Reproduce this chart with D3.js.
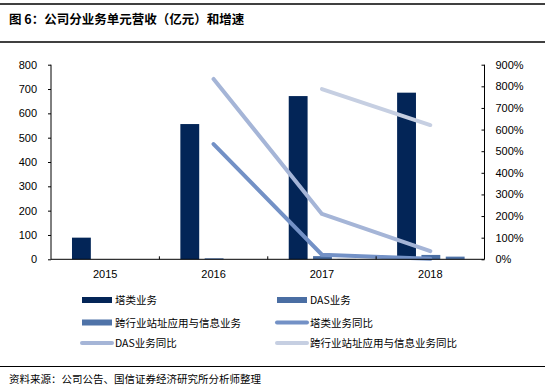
<!DOCTYPE html>
<html><head><meta charset="utf-8">
<script src="https://cdn.jsdelivr.net/npm/d3@7"></script>
<style>
body{margin:0;background:#fff;}
svg text{font-family:Arial,"Liberation Sans","Noto Sans CJK SC",sans-serif;}
.cjk{font-family:"Noto Sans CJK SC",sans-serif;}
</style></head>
<body><svg id="c" width="545" height="387"></svg>
<script>
const years = ["2015","2016","2017","2018"];
const barSeries = ["塔类业务","DAS业务","跨行业站址应用与信息业务"];
const towerRev = [89, 556, 671, 685];
const dasRev = [0.45, 4.2, 13, 18];
const crossRev = [null, 0.17, 1.5, 11];
const lineSeries = ["塔类业务同比","DAS业务同比","跨行业站址应用与信息业务同比"];
const towerYoY = [null, 5.33, 0.21, 0.02];
const dasYoY = [null, 8.34, 2.10, 0.38];
const crossYoY = [null, null, 7.87, 6.21];
const leftTicks = [0,100,200,300,400,500,600,700,800];
const rightTicks = [0,1,2,3,4,5,6,7,8,9];

const barColors = ["#032557","#4a6ea3","#4f73a8"];
const lineColors = ["#7391c6","#a5b5d7","#c6cfe2"];

const svg = d3.select("#c");
const L = 51, R = 484.5, T = 64.7, B = 259.3;

// frame lines & title
svg.append("line").attr("x1",0).attr("x2",545).attr("y1",4).attr("y2",4).attr("stroke","#000").attr("stroke-width",1.5);
svg.append("line").attr("x1",0).attr("x2",545).attr("y1",42).attr("y2",42).attr("stroke","#000").attr("stroke-width",1.5);
svg.append("line").attr("x1",0).attr("x2",545).attr("y1",366.5).attr("y2",366.5).attr("stroke","#000").attr("stroke-width",1.2);
svg.append("text").attr("class","cjk").attr("x",9).attr("y",24).attr("font-size",12.5).attr("font-weight","bold").text("图 6：公司分业务单元营收（亿元）和增速");
svg.append("text").attr("class","cjk").attr("x",9).attr("y",383).attr("font-size",10.5).text("资料来源：公司公告、国信证券经济研究所分析师整理");

const x = d3.scaleBand().domain(years).range([L,R]);
const x1 = d3.scaleBand().domain(barSeries).range([-33.2,34.3]).paddingInner(0.225);
const y = d3.scaleLinear().domain([0,800]).range([B,T]);
const y2 = d3.scaleLinear().domain([0,9]).range([B,T]);

// bars
const barData = [towerRev, dasRev, crossRev];
barSeries.forEach((s,i)=>{
  svg.append("g").selectAll("rect").data(years.map((yr,j)=>({yr,v:barData[i][j]})).filter(d=>d.v!=null))
    .join("rect")
    .attr("x",d=>x(d.yr)+x.bandwidth()/2+x1(s))
    .attr("width",x1.bandwidth())
    .attr("y",d=>y(d.v))
    .attr("height",d=>B-y(d.v))
    .attr("fill",barColors[i]);
});

// lines
const lineData = [towerYoY, dasYoY, crossYoY];
lineSeries.forEach((s,i)=>{
  const pts = years.map((yr,j)=>({yr,v:lineData[i][j]})).filter(d=>d.v!=null);
  svg.append("path").datum(pts)
    .attr("d",d3.line().x(d=>x(d.yr)+x.bandwidth()/2).y(d=>y2(d.v)))
    .attr("fill","none").attr("stroke",lineColors[i]).attr("stroke-width",4)
    .attr("stroke-linecap","round").attr("stroke-linejoin","round");
});

// axes
const gl = svg.append("g").attr("transform",`translate(${L},0)`)
  .call(d3.axisLeft(y).tickValues(leftTicks).tickSize(3).tickPadding(11));
const gr = svg.append("g").attr("transform",`translate(${R},0)`)
  .call(d3.axisRight(y2).tickValues(rightTicks).tickSize(-3).tickPadding(11).tickFormat(d=>(d*100)+"%"));
const gx = svg.append("g").attr("transform",`translate(0,${B})`)
  .call(d3.axisBottom(x).tickSize(0).tickPadding(11));
[gl,gr,gx].forEach(g=>{
  g.select(".domain").attr("stroke","#000");
  g.selectAll(".tick line").attr("stroke","#000");
  g.selectAll("text").attr("font-size",11).attr("fill","#000").attr("font-family","Arial,'Liberation Sans',sans-serif");
});
gl.select(".domain").attr("d",`M0,${T}V${B}`);
gr.select(".domain").attr("d",`M0,${T}V${B}`);
gx.select(".domain").attr("d",`M${L},0H${R}`);
// category separator ticks pointing up
svg.append("g").selectAll("line").data(years.slice(1)).join("line")
  .attr("x1",d=>x(d)).attr("x2",d=>x(d)).attr("y1",B).attr("y2",B-3).attr("stroke","#000");

// legend
const leg = [
  {name:barSeries[0], type:"bar", c:barColors[0], x:82, y:300},
  {name:barSeries[1], type:"bar", c:barColors[1], x:277, y:300},
  {name:barSeries[2], type:"bar", c:barColors[2], x:82, y:322.5},
  {name:lineSeries[0], type:"line", c:lineColors[0], x:277, y:322.5},
  {name:lineSeries[1], type:"line", c:lineColors[1], x:82, y:343},
  {name:lineSeries[2], type:"line", c:lineColors[2], x:277, y:343}
];
leg.forEach(d=>{
  if(d.type==="bar"){
    svg.append("rect").attr("x",d.x).attr("y",d.y-3).attr("width",30).attr("height",6).attr("fill",d.c);
  } else {
    svg.append("line").attr("x1",d.x).attr("x2",d.x+30).attr("y1",d.y).attr("y2",d.y)
      .attr("stroke",d.c).attr("stroke-width",4).attr("stroke-linecap","round");
  }
  svg.append("text").attr("class","cjk").attr("x",d.x+33).attr("y",d.y+4).attr("font-size",10.5).attr("fill","#000").text(d.name);
});
</script></body></html>
